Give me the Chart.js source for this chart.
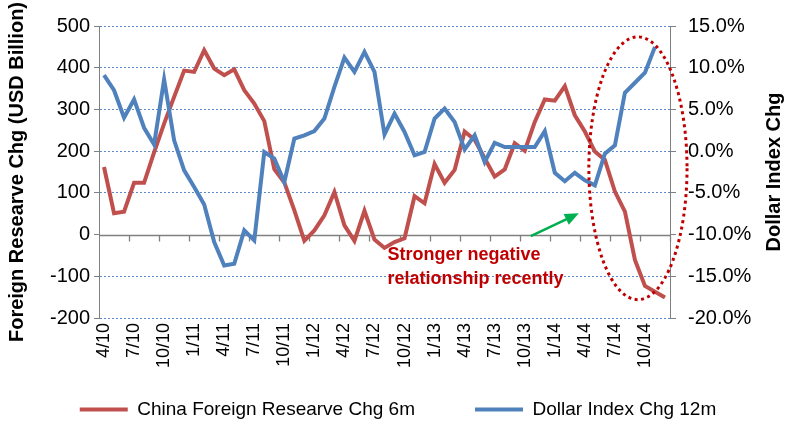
<!DOCTYPE html>
<html>
<head>
<meta charset="utf-8">
<script src="https://cdn.jsdelivr.net/npm/chart.js@4.4.1/dist/chart.umd.min.js"></script>
<style>
  html, body { margin: 0; padding: 0; background: #fff; }
  #wrap { width: 796px; height: 424px; }
</style>
</head>
<body>
<div id="wrap"><canvas id="reserveChart" width="796" height="424"></canvas></div>
<script>
const months = [
  '4/10', '5/10', '6/10', '7/10', '8/10', '9/10', '10/10', '11/10', '12/10',
  '1/11', '2/11', '3/11', '4/11', '5/11', '6/11', '7/11', '8/11', '9/11', '10/11', '11/11', '12/11',
  '1/12', '2/12', '3/12', '4/12', '5/12', '6/12', '7/12', '8/12', '9/12', '10/12', '11/12', '12/12',
  '1/13', '2/13', '3/13', '4/13', '5/13', '6/13', '7/13', '8/13', '9/13', '10/13', '11/13', '12/13',
  '1/14', '2/14', '3/14', '4/14', '5/14', '6/14', '7/14', '8/14', '9/14', '10/14', '11/14', '12/14'
];

// China FX reserve change over 6 months, USD bn
const reserveChg = [
  162, 51, 55, 124, 124, 197, 266, 330, 393, 390, 442, 398, 382, 396, 346, 314,
  272, 157, 125, 58, -15, 10, 46, 102, 22, -15, 57, -12, -32, -18, -9, 92,
  75, 169, 124, 155, 247, 227, 183, 139, 156, 219, 201, 270, 324, 321, 356, 286,
  247, 199, 179, 103, 55, -61, -123, -137, -151
];

// Dollar index change over 12 months, %
const dollarChg = [
  9.1, 7.3, 4.0, 6.2, 2.8, 0.8, 8.6, 1.3, -2.3, -4.3, -6.4, -10.9, -13.7, -13.5, -9.5, -10.7,
  -0.1, -0.9, -3.7, 1.5, 1.9, 2.4, 3.9, 7.7, 11.2, 9.5, 11.9, 9.5, 2.0, 4.5, 2.3, -0.5,
  -0.1, 3.9, 5.1, 3.5, 0.2, 1.9, -1.3, 1.0, 0.5, 0.5, 0.5, 0.5, 2.4, -2.6, -3.6, -2.6,
  -3.5, -4.1, -0.3, 0.7, 7.0, 8.2, 9.4, 12.5, null
];

const leftTicks = [-200, -100, 0, 100, 200, 300, 400, 500];
const rightTicks = [-20, -15, -10, -5, 0, 5, 10, 15];

const RED = '#C0504D';
const BLUE = '#4F81BD';
const AXIS = '#808080';
const FONT = "'Liberation Sans', Arial, sans-serif";

// zero line, category tick marks, circled area, arrow, note, right title
const extras = {
  id: 'extras',
  afterLayout(chart) {
    // let the rotated month labels run past the short x box
    const xs = chart.scales.x;
    xs.bottom = xs.top + 80;
    xs.height = 80;
  },
  afterDatasetsDraw(chart) {
    // category axis at zero, slipped under the series lines
    const { ctx, chartArea, scales: { x, y } } = chart;
    const y0 = Math.round(y.getPixelForValue(0)) + 0.5;
    ctx.save();
    ctx.globalCompositeOperation = 'destination-over';
    ctx.strokeStyle = AXIS;
    ctx.lineWidth = 1.3;
    ctx.beginPath();
    ctx.moveTo(chartArea.left, y0);
    ctx.lineTo(chartArea.right, y0);
    for (let i = 3; i <= months.length; i += 3) {
      const px = Math.round(x.getPixelForValue(i - 0.5)) + 0.5;
      ctx.moveTo(px, y0);
      ctx.lineTo(px, y0 + 6);
    }
    ctx.stroke();
    ctx.restore();
  },
  afterDraw(chart) {
    const { ctx, chartArea, scales: { x, y } } = chart;
    ctx.save();

    // dotted ellipse round the last months
    const cx = x.getPixelForValue(53.3);
    const cy = y.getPixelForValue(159);
    const rx = x.getPixelForValue(58.2) - cx;
    const ry = y.getPixelForValue(159) - y.getPixelForValue(474);
    ctx.strokeStyle = '#C00000';
    ctx.lineWidth = 3;
    ctx.setLineDash([3, 3.5]);
    ctx.beginPath();
    ctx.ellipse(cx, cy, rx, ry, 0, 0, Math.PI * 2);
    ctx.stroke();
    ctx.setLineDash([]);

    // green arrow
    const ax1 = x.getPixelForValue(42.6), ay1 = y.getPixelForValue(-4);
    const ax2 = x.getPixelForValue(47.4), ay2 = y.getPixelForValue(51);
    const ang = Math.atan2(ay2 - ay1, ax2 - ax1);
    ctx.strokeStyle = '#00B050';
    ctx.fillStyle = '#00B050';
    ctx.lineWidth = 2.5;
    ctx.beginPath();
    ctx.moveTo(ax1, ay1);
    ctx.lineTo(ax2 - 10 * Math.cos(ang), ay2 - 10 * Math.sin(ang));
    ctx.stroke();
    ctx.beginPath();
    ctx.moveTo(ax2, ay2);
    ctx.lineTo(ax2 - 14 * Math.cos(ang) + 6 * Math.sin(ang), ay2 - 14 * Math.sin(ang) - 6 * Math.cos(ang));
    ctx.lineTo(ax2 - 14 * Math.cos(ang) - 6 * Math.sin(ang), ay2 - 14 * Math.sin(ang) + 6 * Math.cos(ang));
    ctx.closePath();
    ctx.fill();

    // note
    ctx.fillStyle = '#C00000';
    ctx.font = 'bold 18px ' + FONT;
    ctx.textAlign = 'left';
    ctx.textBaseline = 'alphabetic';
    const tx = x.getPixelForValue(28.3);
    ctx.fillText('Stronger negative', tx, y.getPixelForValue(-61));
    ctx.fillText('relationship recently', tx, y.getPixelForValue(-119));

    // right axis title, reading bottom to top
    ctx.fillStyle = '#000';
    ctx.font = 'bold 20px ' + FONT;
    ctx.textAlign = 'center';
    ctx.textBaseline = 'middle';
    ctx.translate(chart.width - 22, (chartArea.top + chartArea.bottom) / 2);
    ctx.rotate(-Math.PI / 2);
    ctx.fillText('Dollar Index Chg', 0, 0);
    ctx.restore();
  }
};

const chart = new Chart(document.getElementById('reserveChart'), {
  type: 'line',
  data: {
    labels: months,
    datasets: [
      {
        label: 'China Foreign Researve Chg 6m',
        data: reserveChg,
        yAxisID: 'y',
        borderColor: RED,
        backgroundColor: RED,
        borderWidth: 4,
        pointRadius: 0,
        tension: 0,
        order: 1
      },
      {
        label: 'Dollar Index Chg 12m',
        data: dollarChg,
        yAxisID: 'y1',
        borderColor: BLUE,
        backgroundColor: BLUE,
        borderWidth: 4,
        pointRadius: 0,
        tension: 0,
        spanGaps: false,
        order: 0
      }
    ]
  },
  options: {
    responsive: false,
    animation: false,
    events: [],
    layout: { padding: { top: 26, left: 0, right: 0, bottom: -5 } },
    plugins: {
      tooltip: { enabled: false },
      legend: {
        position: 'bottom',
        labels: {
          boxWidth: 48,
          boxHeight: 4,
          padding: 60,
          color: '#000',
          font: { family: FONT, size: 19 },
          sort: (a, b) => a.datasetIndex - b.datasetIndex,
          generateLabels: (c) => Chart.defaults.plugins.legend.labels.generateLabels(c)
            .map(item => ({ ...item, lineWidth: 0 }))
        }
      }
    },
    scales: {
      x: {
        offset: true,
        grid: { display: false, drawTicks: false },
        border: { display: false },
        ticks: {
          autoSkip: false,
          minRotation: 90,
          maxRotation: 90,
          padding: 5,
          color: '#000',
          font: { family: FONT, size: 18 },
          callback: (v, i) => (i % 3 === 0 ? months[i] : '')
        },
        afterFit: (s) => { s.height = 22; }
      },
      y: {
        position: 'left',
        min: leftTicks[0],
        max: leftTicks[leftTicks.length - 1],
        afterBuildTicks: (s) => { s.ticks = leftTicks.map(v => ({ value: v })); },
        grid: {
          color: (c) => (c.tick && c.tick.value === 0 ? 'rgba(0,0,0,0)' : '#5B8CC8'),
          lineWidth: 1,
          tickLength: 5,
          tickColor: AXIS
        },
        border: { display: true, color: AXIS, width: 1, dash: [2, 2] },
        ticks: {
          padding: 4,
          color: '#000',
          font: { family: FONT, size: 20 }
        },
        title: {
          display: true,
          text: 'Foreign Researve Chg (USD Billion)',
          color: '#000',
          font: { family: FONT, size: 20, weight: 'bold' },
          padding: { top: 5, bottom: 0 }
        },
        afterFit: (s) => { s.width = 99; }
      },
      y1: {
        position: 'right',
        min: rightTicks[0],
        max: rightTicks[rightTicks.length - 1],
        afterBuildTicks: (s) => { s.ticks = rightTicks.map(v => ({ value: v })); },
        grid: { drawOnChartArea: false, tickLength: 6, tickColor: AXIS },
        border: { display: true, color: AXIS, width: 1 },
        ticks: {
          padding: 12,
          color: '#000',
          font: { family: FONT, size: 20 },
          callback: (v) => v.toFixed(1) + '%'
        },
        afterFit: (s) => { s.width = 126; }
      }
    }
  },
  plugins: [extras]
});
</script>
</body>
</html>
